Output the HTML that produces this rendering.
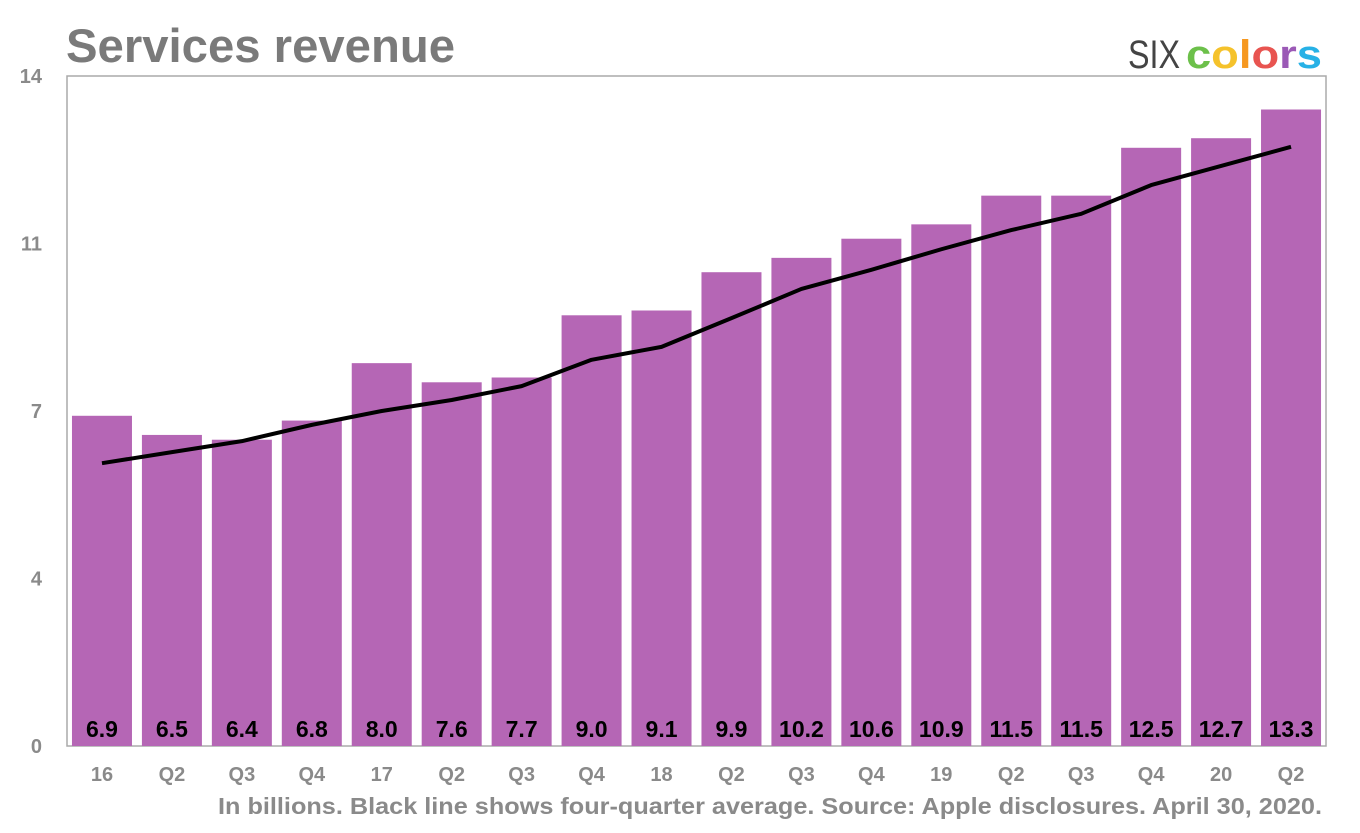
<!DOCTYPE html>
<html><head><meta charset="utf-8"><style>
html,body{margin:0;padding:0;background:#fff;width:1360px;height:833px;overflow:hidden;font-family:"Liberation Sans",sans-serif}
</style></head><body>
<svg id="chart" width="1360" height="833" xmlns="http://www.w3.org/2000/svg">
<text x="66" y="62" font-size="47" font-weight="bold" fill="#7a7a7a" textLength="389" lengthAdjust="spacingAndGlyphs">Services revenue</text>
<g font-size="40" font-weight="bold">
<text x="1128" y="68" font-weight="normal" fill="#444" textLength="52" lengthAdjust="spacingAndGlyphs">SIX</text>
<text x="1186" y="68" textLength="136" lengthAdjust="spacingAndGlyphs"><tspan fill="#6cc04a">c</tspan><tspan fill="#f5c22b">o</tspan><tspan fill="#f6981f">l</tspan><tspan fill="#e85450">o</tspan><tspan fill="#9b59b6">r</tspan><tspan fill="#27b1e6">s</tspan></text>
</g>
<rect x="67" y="76" width="1259" height="670" fill="none" stroke="#aaa" stroke-width="1.5"/>
<g id="bars"></g><g id="vals"></g><g id="xl"></g><g id="yl"></g><g id="ln"></g>
<text x="1322" y="814" text-anchor="end" font-size="23" font-weight="bold" fill="#8a8a8a" textLength="1104" lengthAdjust="spacingAndGlyphs">In billions. Black line shows four-quarter average. Source: Apple disclosures. April 30, 2020.</text>
</svg>
<script>
const categories=["16","Q2","Q3","Q4","17","Q2","Q3","Q4","18","Q2","Q3","Q4","19","Q2","Q3","Q4","20","Q2"];
const revenue=[6.9,6.5,6.4,6.8,8.0,7.6,7.7,9.0,9.1,9.9,10.2,10.6,10.9,11.5,11.5,12.5,12.7,13.3];
const avgLine=[5.91,6.14,6.37,6.71,7.0,7.23,7.52,8.07,8.34,8.94,9.55,9.95,10.38,10.78,11.12,11.72,12.12,12.52];
const yTicks=[0,3.5,7,10.5,14];
const yTickLabels=["0","4","7","11","14"];
const NS="http://www.w3.org/2000/svg";
const L=67,R=1326,T=76,B=746,slot=(R-L)/categories.length;
const y=v=>B-v/14*(B-T);
const xc=i=>L+slot*(i+0.5);
function mk(tag,attrs,parent,txt){const e=document.createElementNS(NS,tag);for(const k in attrs)e.setAttribute(k,attrs[k]);if(txt!==undefined)e.textContent=txt;document.getElementById(parent).appendChild(e);return e;}
revenue.forEach((v,i)=>{
 const b=mk('rect',{x:xc(i)-30,y:y(v),width:60,height:B-y(v),fill:'#b566b5'},'bars');
 
 
 const t=mk('text',{x:xc(i),y:737,'text-anchor':'middle','font-size':23,'font-weight':'bold',fill:'#000'},'vals',v.toFixed(1));
 
 
});
categories.forEach((c,i)=>{
 const t=mk('text',{x:xc(i),y:781,'text-anchor':'middle','font-size':20,'font-weight':'bold',fill:'#8a8a8a'},'xl',c);
 
 
});
yTicks.forEach((v,i)=>{
 const t=mk('text',{x:42,y:y(v)+7,'text-anchor':'end','font-size':20,'font-weight':'bold',fill:'#8a8a8a'},'yl',yTickLabels[i]);
 
 
});
const p=mk('polyline',{points:avgLine.map((v,i)=>xc(i)+','+y(v)).join(' '),fill:'none',stroke:'#000','stroke-width':4,'stroke-linejoin':'round'},'ln');


</script>
</body></html>
